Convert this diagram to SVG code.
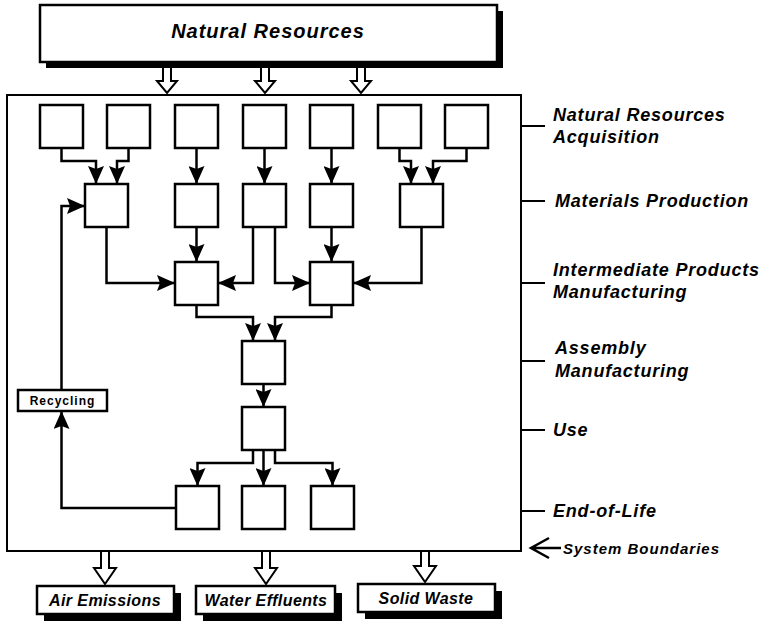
<svg xmlns="http://www.w3.org/2000/svg" width="767" height="623" viewBox="0 0 767 623">
  <style>
    .box { fill: #fff; stroke: #000; stroke-width: 2.5; }
    .shadow { fill: #000; }
    .frame { fill: none; stroke: #000; stroke-width: 2; }
    .wire { fill: none; stroke: #000; stroke-width: 2.5; stroke-linejoin: miter; }
    .flow { fill: none; stroke: #000; stroke-width: 2.5; marker-end: url(#head); }
    .hollow { fill: #fff; stroke: #000; stroke-width: 2; stroke-linejoin: miter; }
    .tick { stroke: #000; stroke-width: 2; }
    .lbl { font-family: "Liberation Sans", Arial, sans-serif; font-weight: bold; font-style: italic; fill: #000; }
    .stage { font-size: 18px; letter-spacing: 0.8px; }
    .title { font-size: 20px; letter-spacing: 1px; }
    .out { font-size: 16px; letter-spacing: 0.4px; }
    .sys { font-size: 15px; letter-spacing: 1px; }
    .rec { font-family: "Liberation Sans", Arial, sans-serif; font-weight: bold; font-size: 12px; letter-spacing: 1px; fill: #000; }
  </style>
  <defs>
    <marker id="head" viewBox="0 0 18 16" refX="18" refY="8" markerWidth="18" markerHeight="16" markerUnits="userSpaceOnUse" orient="auto">
      <path d="M0,0 L18,8 L0,16 L3,8 z" fill="#000"/>
    </marker>
  </defs>

  <rect width="767" height="623" fill="#fff"/>

  <!-- source -->
  <g id="natural-resources">
    <rect class="shadow" x="46" y="11" width="457" height="57"/>
    <rect class="box" x="40" y="5" width="457" height="57"/>
    <text class="lbl title" x="268" y="38" text-anchor="middle">Natural Resources</text>
  </g>

  <!-- system boundary -->
  <g id="system-boundary">
    <rect class="frame" x="7" y="95" width="514" height="456"/>
  </g>

  <!-- stage labels on the right -->
  <g id="stage-labels">
    <line class="tick" x1="521" y1="126" x2="545" y2="126"/>
    <text class="lbl stage" x="553" y="121">Natural Resources</text>
    <text class="lbl stage" x="553" y="143">Acquisition</text>
    <line class="tick" x1="521" y1="201" x2="545" y2="201"/>
    <text class="lbl stage" x="555" y="207">Materials Production</text>
    <line class="tick" x1="521" y1="283" x2="545" y2="283"/>
    <text class="lbl stage" x="553" y="276">Intermediate Products</text>
    <text class="lbl stage" x="553" y="298">Manufacturing</text>
    <line class="tick" x1="521" y1="361" x2="545" y2="361"/>
    <text class="lbl stage" x="555" y="354">Assembly</text>
    <text class="lbl stage" x="555" y="377">Manufacturing</text>
    <line class="tick" x1="521" y1="430" x2="545" y2="430"/>
    <text class="lbl stage" x="553" y="436">Use</text>
    <line class="tick" x1="521" y1="511" x2="545" y2="511"/>
    <text class="lbl stage" x="553" y="517">End-of-Life</text>
  </g>

  <g id="system-boundaries-label">
    <path class="wire" d="M549,538 L531,548 L549,558 M531,548 H561"/>
    <text class="lbl sys" x="563" y="554">System Boundaries</text>
  </g>

  <!-- acquisition row -->
  <g id="acq-1"><rect class="box" x="40" y="105" width="43" height="43"/></g>
  <g id="acq-2"><rect class="box" x="107" y="105" width="43" height="43"/></g>
  <g id="acq-3"><rect class="box" x="175" y="105" width="43" height="43"/></g>
  <g id="acq-4"><rect class="box" x="243" y="105" width="43" height="43"/></g>
  <g id="acq-5"><rect class="box" x="310" y="105" width="43" height="43"/></g>
  <g id="acq-6"><rect class="box" x="378" y="105" width="43" height="43"/></g>
  <g id="acq-7"><rect class="box" x="445" y="105" width="43" height="43"/></g>

  <!-- materials row -->
  <g id="mat-1"><rect class="box" x="85" y="184" width="43" height="43"/></g>
  <g id="mat-2"><rect class="box" x="175" y="184" width="43" height="43"/></g>
  <g id="mat-3"><rect class="box" x="243" y="184" width="43" height="43"/></g>
  <g id="mat-4"><rect class="box" x="310" y="184" width="43" height="43"/></g>
  <g id="mat-5"><rect class="box" x="400" y="184" width="43" height="43"/></g>

  <!-- intermediate products row -->
  <g id="int-1"><rect class="box" x="175" y="262" width="43" height="43"/></g>
  <g id="int-2"><rect class="box" x="310" y="262" width="43" height="43"/></g>

  <g id="assembly"><rect class="box" x="242" y="341" width="43" height="43"/></g>
  <g id="use"><rect class="box" x="242" y="407" width="43" height="43"/></g>

  <!-- end-of-life row -->
  <g id="eol-1"><rect class="box" x="176" y="486" width="43" height="43"/></g>
  <g id="eol-2"><rect class="box" x="242" y="486" width="43" height="43"/></g>
  <g id="eol-3"><rect class="box" x="311" y="486" width="43" height="43"/></g>

  <g id="recycling">
    <rect class="box" x="18" y="390" width="89" height="21"/>
    <text class="rec" x="62.5" y="405" text-anchor="middle">Recycling</text>
  </g>

  <!-- outputs -->
  <g id="air-emissions">
    <rect class="shadow" x="44" y="593" width="137" height="28"/>
    <rect class="box" x="37" y="586" width="137" height="28"/>
    <text class="lbl out" x="105" y="606" text-anchor="middle">Air Emissions</text>
  </g>
  <g id="water-effluents">
    <rect class="shadow" x="203" y="593" width="139" height="28"/>
    <rect class="box" x="196" y="586" width="139" height="28"/>
    <text class="lbl out" x="266" y="606" text-anchor="middle">Water Effluents</text>
  </g>
  <g id="solid-waste">
    <rect class="shadow" x="365" y="591" width="137" height="28"/>
    <rect class="box" x="358" y="584" width="137" height="28"/>
    <text class="lbl out" x="426" y="604" text-anchor="middle">Solid Waste</text>
  </g>

  <!-- connectors -->
  <g id="connectors">
    <!-- inflow / outflow across the boundary -->
    <path class="hollow" d="M163,68 V81 H157 L167,93 L177,81 H171 V68"/>
    <path class="hollow" d="M261,68 V81 H255 L265,93 L275,81 H269 V68"/>
    <path class="hollow" d="M357,68 V81 H351 L361,93 L371,81 H365 V68"/>
    <path class="hollow" d="M101,552 V568 H94 L105,584 L116,568 H109 V552"/>
    <path class="hollow" d="M262,552 V568 H255 L266,584 L277,568 H270 V552"/>
    <path class="hollow" d="M421,552 V566 H414 L425,582 L436,566 H429 V552"/>

    <!-- acquisition to materials -->
    <path class="flow" d="M61.5,148 V161 H96 V184"/>
    <path class="flow" d="M128.5,148 V161 H117 V184"/>
    <path class="flow" d="M196.5,148 V184"/>
    <path class="flow" d="M264.5,148 V184"/>
    <path class="flow" d="M331.5,148 V184"/>
    <path class="flow" d="M399.5,148 V161 H411 V184"/>
    <path class="flow" d="M466.5,148 V161 H433 V184"/>

    <!-- materials to intermediate products -->
    <path class="flow" d="M106.5,227 V283 H175"/>
    <path class="flow" d="M196.5,227 V262"/>
    <path class="flow" d="M253,227 V283 H218"/>
    <path class="flow" d="M275,227 V283 H310"/>
    <path class="flow" d="M331.5,227 V262"/>
    <path class="flow" d="M421.5,227 V283 H353"/>

    <!-- intermediate products to assembly -->
    <path class="flow" d="M196.5,305 V317 H253 V341"/>
    <path class="flow" d="M331.5,305 V317 H275 V341"/>

    <!-- assembly to use -->
    <path class="flow" d="M263.5,384 V407"/>

    <!-- use to end-of-life -->
    <path class="flow" d="M253,450 V463 H197.5 V486"/>
    <path class="flow" d="M263.5,450 V486"/>
    <path class="flow" d="M275,450 V463 H332.5 V486"/>

    <!-- recycling loop -->
    <path class="flow" d="M176,508 H61.5 V411"/>
    <path class="flow" d="M61.5,390 V206 H85"/>
  </g>
</svg>
